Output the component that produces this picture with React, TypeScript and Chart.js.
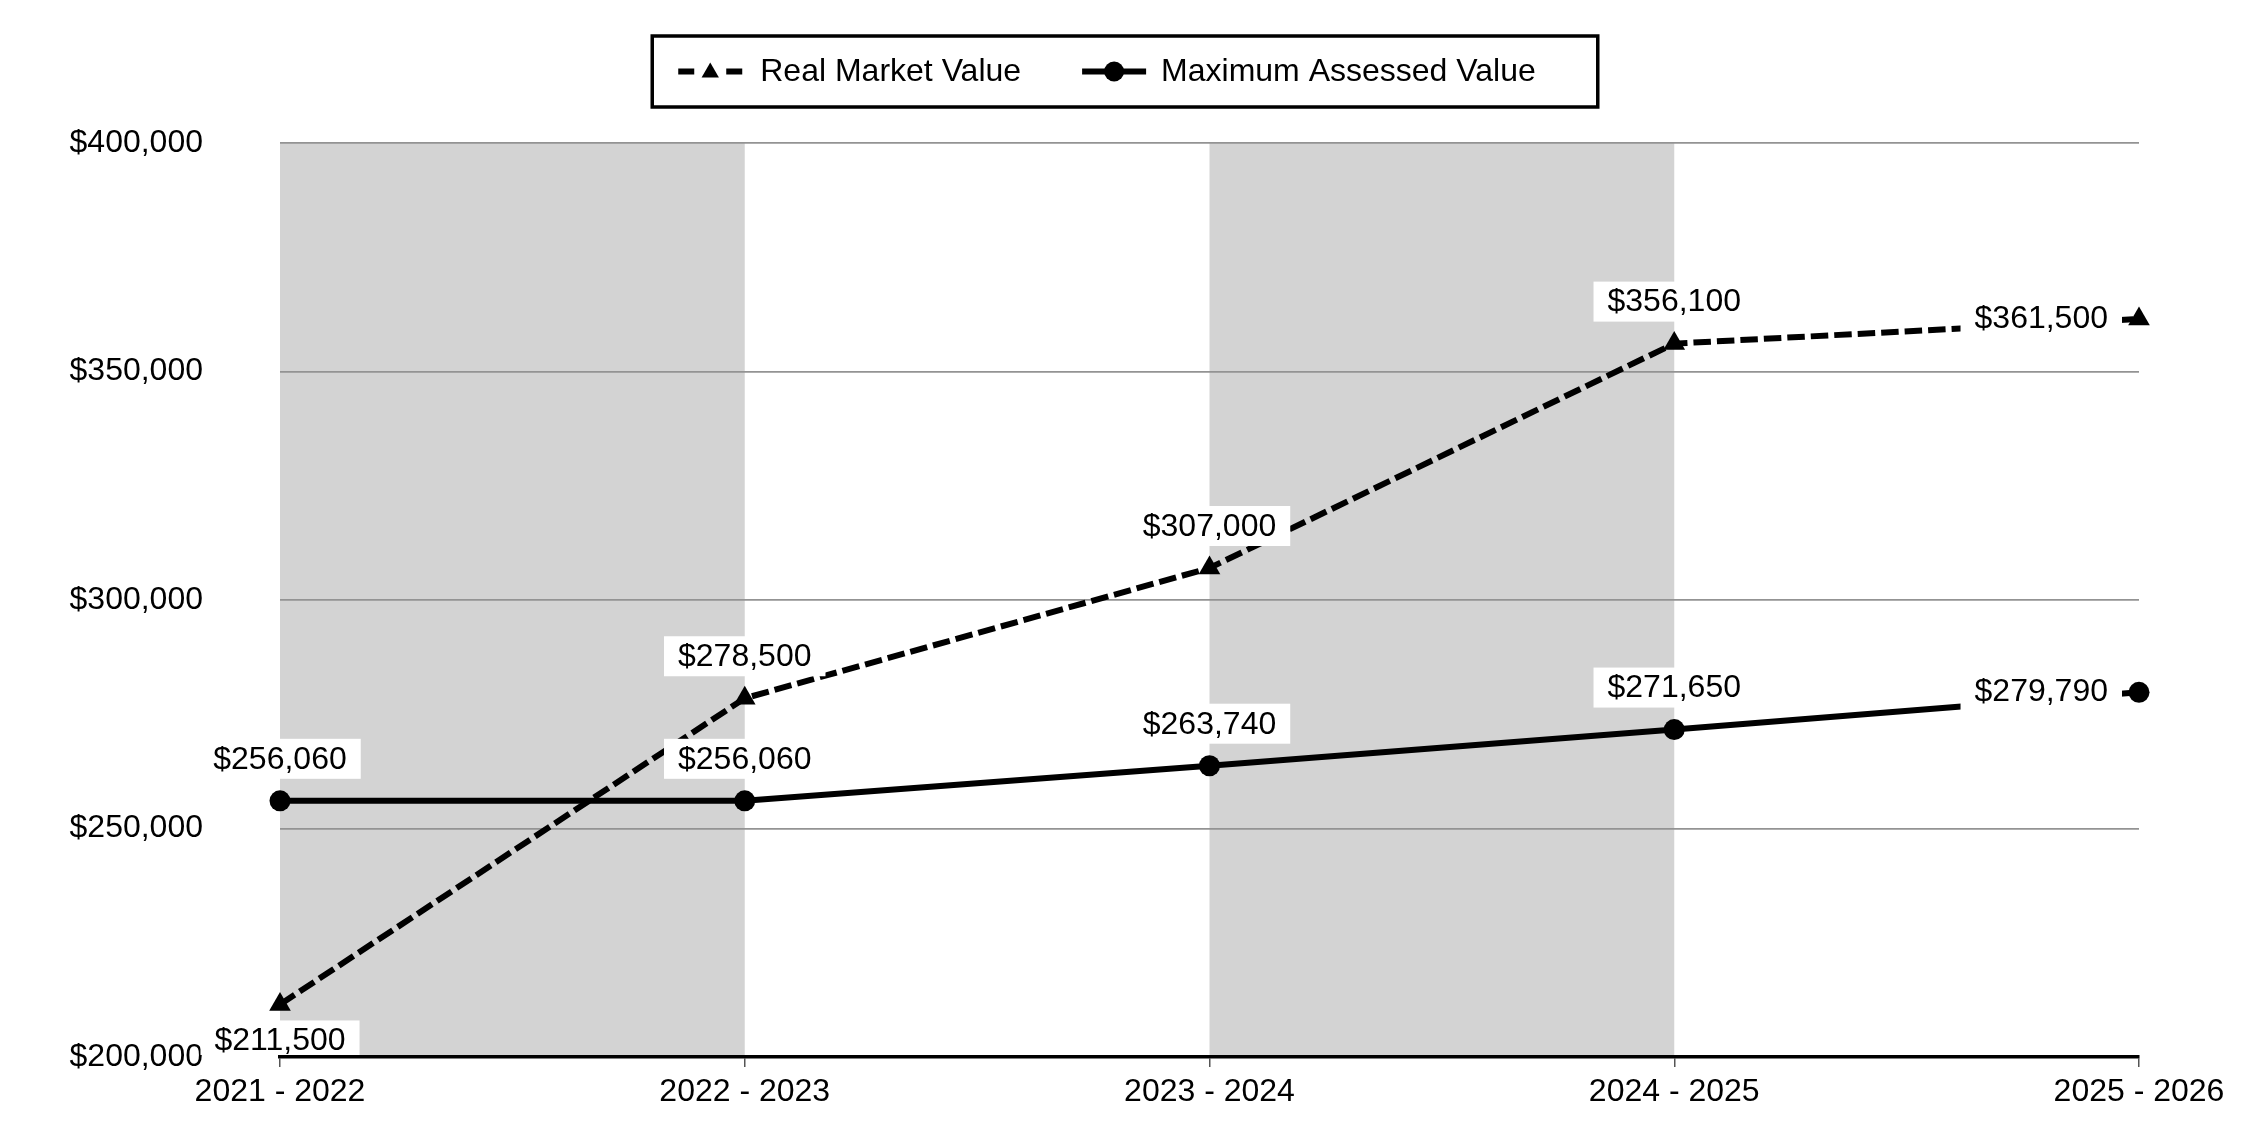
import React, { useEffect, useRef } from "react";
import { Chart, registerables } from "chart.js";

Chart.register(...registerables);

// ---- data ----
const categories = ["2021 - 2022", "2022 - 2023", "2023 - 2024", "2024 - 2025", "2025 - 2026"];
const realMarketValue = [211500, 278500, 307000, 356100, 361500];
const maxAssessedValue = [256060, 256060, 263740, 271650, 279790];
const seriesNames = ["Real Market Value", "Maximum Assessed Value"];
const yMin = 200000;
const yMax = 400000;
const yStep = 50000;
// shaded column bands, as pairs of category indices
const shadedBands: [number, number][] = [
  [0, 1],
  [2, 3],
];
// where each value label sits relative to its point
const rmvLabelPlacement = ["below", "above", "above", "above", "left"];
const mavLabelPlacement = ["above", "above", "above", "above", "left"];

const FONT = '"Liberation Sans", Arial, Helvetica, sans-serif';
const fmt = (v: number) => "$" + v.toLocaleString("en-US");

const bandPlugin = {
  id: "bands",
  beforeDraw(chart: any) {
    const { ctx, chartArea, scales } = chart;
    const x = scales.x;
    ctx.save();
    ctx.fillStyle = "#d3d3d3";
    for (const [a, b] of shadedBands) {
      const x0 = x.getPixelForValue(a);
      const x1 = x.getPixelForValue(b);
      ctx.fillRect(x0, chartArea.top, x1 - x0, chartArea.bottom - chartArea.top);
    }
    ctx.restore();
  },
};

const labelPlugin = {
  id: "valueLabels",
  afterDatasetsDraw(chart: any) {
    const { ctx, chartArea } = chart;
    const placements = [rmvLabelPlacement, mavLabelPlacement];
    ctx.save();
    ctx.font = `32px ${FONT}`;
    ctx.textBaseline = "middle";
    ctx.textAlign = "center";
    chart.data.datasets.forEach((ds: any, di: number) => {
      const meta = chart.getDatasetMeta(di);
      meta.data.forEach((el: any, i: number) => {
        const text = fmt(ds.data[i]);
        const tw = ctx.measureText(text).width;
        const padX = 14;
        const h = 40;
        let cx = el.x;
        let cy = el.y;
        const p = placements[di][i];
        if (p === "above") cy = el.y - 42;
        else if (p === "below") cy = el.y + 36;
        else if (p === "left") {
          cx = el.x - 31 - tw / 2;
          cy = el.y - 1;
        }
        const top = cy - h / 2;
        const bottom = Math.min(cy + h / 2, chartArea.bottom - 2);
        ctx.fillStyle = "#ffffff";
        ctx.fillRect(cx - tw / 2 - padX, top, tw + padX * 2, bottom - top);
        ctx.fillStyle = "#000000";
        ctx.fillText(text, cx, cy + 1);
      });
    });
    ctx.restore();
  },
};

const legendPlugin = {
  id: "boxLegend",
  afterDraw(chart: any) {
    const { ctx, width } = chart;
    ctx.save();
    ctx.font = `32px ${FONT}`;
    const sym = 64;
    const symGap = [18, 15];
    const itemGap = 61;
    const widths = seriesNames.map((n) => ctx.measureText(n).width);
    const content =
      sym + symGap[0] + widths[0] + itemGap + sym + symGap[1] + widths[1];
    const padL = 26;
    const padR = 62;
    const boxW = content + padL + padR;
    const boxX = width / 2 - boxW / 2;
    const boxY = 36;
    const boxH = 71;
    ctx.lineWidth = 3.5;
    ctx.strokeStyle = "#000";
    ctx.strokeRect(boxX, boxY, boxW, boxH);
    const cy = boxY + boxH / 2;
    let x = boxX + padL;
    // item 1: dashed + triangle
    ctx.lineWidth = 6;
    ctx.beginPath();
    ctx.moveTo(x, cy);
    ctx.lineTo(x + 16, cy);
    ctx.moveTo(x + sym - 16, cy);
    ctx.lineTo(x + sym, cy);
    ctx.stroke();
    ctx.fillStyle = "#000";
    const tr = 10;
    const tx = x + sym / 2;
    const ty = cy + 1;
    ctx.beginPath();
    ctx.moveTo(tx, ty - tr);
    ctx.lineTo(tx + tr * 0.866, ty + tr * 0.5);
    ctx.lineTo(tx - tr * 0.866, ty + tr * 0.5);
    ctx.closePath();
    ctx.fill();
    x += sym + symGap[0];
    ctx.textBaseline = "middle";
    ctx.textAlign = "left";
    ctx.fillText(seriesNames[0], x, cy + 1);
    x += widths[0] + itemGap;
    // item 2: solid + circle
    ctx.lineWidth = 6;
    ctx.beginPath();
    ctx.moveTo(x, cy);
    ctx.lineTo(x + sym, cy);
    ctx.stroke();
    ctx.beginPath();
    ctx.arc(x + sym / 2, cy, 10, 0, Math.PI * 2);
    ctx.fill();
    x += sym + symGap[1];
    ctx.fillText(seriesNames[1], x, cy + 1);
    ctx.restore();
  },
};

export default function App() {
  const ref = useRef<HTMLCanvasElement | null>(null);
  useEffect(() => {
    if (!ref.current) return;
    const chart = new Chart(ref.current, {
      type: "line",
      data: {
        labels: categories,
        datasets: [
          {
            label: seriesNames[0],
            data: realMarketValue,
            borderColor: "#000",
            backgroundColor: "#000",
            borderWidth: 6,
            borderDash: [17.5, 6],
            tension: 0,
            pointStyle: "triangle",
            pointRadius: 12.5,
            pointBorderWidth: 0,
            pointBackgroundColor: "#000",
            clip: false as any,
          },
          {
            label: seriesNames[1],
            data: maxAssessedValue,
            borderColor: "#000",
            backgroundColor: "#000",
            borderWidth: 6,
            tension: 0,
            pointStyle: "circle",
            pointRadius: 10.5,
            pointBorderWidth: 0,
            pointBackgroundColor: "#000",
            clip: false as any,
          },
        ],
      },
      options: {
        animation: false,
        responsive: true,
        maintainAspectRatio: false,
        layout: { padding: { top: 143, right: 111, left: 0, bottom: 0 } },
        plugins: {
          legend: { display: false },
          tooltip: { enabled: false },
        },
        scales: {
          x: {
            type: "category",
            offset: false,
            grid: {
              display: true,
              drawOnChartArea: false,
              drawTicks: true,
              tickLength: 10,
              color: "#555",
              lineWidth: 1.5,
            },
            border: { display: true, color: "#000", width: 3.5 },
            ticks: {
              color: "#000",
              font: { family: FONT, size: 32 },
              padding: 6,
              maxRotation: 0,
              autoSkip: false,
            },
            afterFit(scale: any) {
              scale.height = 83;
            },
          },
          y: {
            min: yMin,
            max: yMax,
            grid: {
              color: "#939393",
              lineWidth: 1.8,
              drawTicks: true,
              tickLength: 77,
              tickColor: "rgba(0,0,0,0)",
            },
            border: { display: false },
            ticks: {
              stepSize: yStep,
              color: "#000",
              font: { family: FONT, size: 32 },
              padding: 0,
              callback: (v: any) => fmt(Number(v)),
            },
            afterFit(scale: any) {
              scale.width = 280;
            },
          },
        },
      },
      plugins: [bandPlugin, labelPlugin, legendPlugin],
    });
    return () => chart.destroy();
  }, []);
  return (
    <div style={{ position: "absolute", left: 0, top: 0, width: 2250, height: 1140, background: "#fff" }}>
      <canvas ref={ref} />
    </div>
  );
}
